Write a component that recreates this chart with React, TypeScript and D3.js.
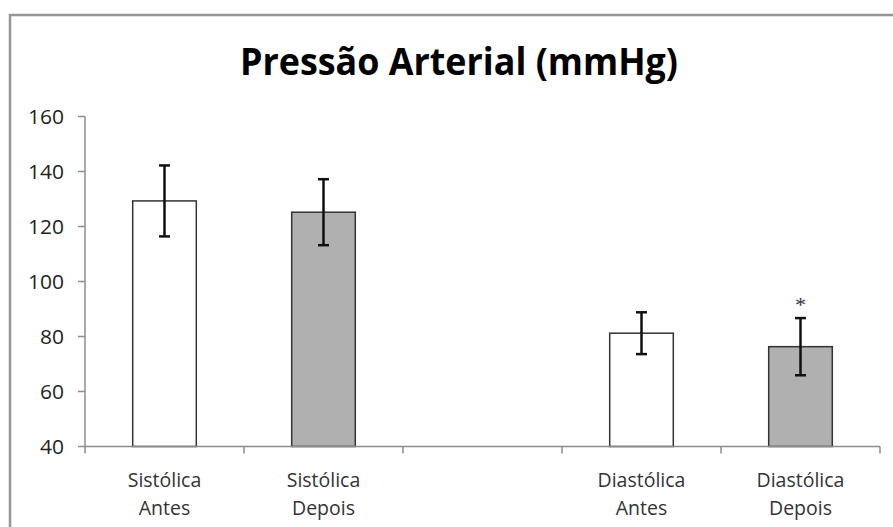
import React from 'react';
import * as d3 from 'd3';

// Dados
const slots = ['sa', 'sd', 'gap', 'da', 'dd'];
const barKeys = ['sa', 'sd', 'da', 'dd'];
const barLabels = [['Sistólica', 'Antes'], ['Sistólica', 'Depois'], ['Diastólica', 'Antes'], ['Diastólica', 'Depois']];
const means = [129.3, 125.2, 81.2, 76.3];
const errors = [12.9, 12.0, 7.6, 10.4];
const fills = ['#ffffff', '#b0b0b0', '#ffffff', '#b0b0b0'];
const significant = [false, false, false, true];
const yTicks = [40, 60, 80, 100, 120, 140, 160];

const W = 893;
const H = 527;
const FONT = "'Open Sans', sans-serif";

const App = () => {
  const x = d3.scaleBand<string>().domain(slots).range([85, 880]).paddingInner(0.6).paddingOuter(0.3);
  const y = d3.scaleLinear().domain([40, 160]).range([446.5, 116.5]);
  const step = x.step();
  const bw = x.bandwidth();
  const boundaries = d3.range(slots.length + 1).map(i => 85 + i * step);

  return (
    <div style={{ position: 'absolute', top: 0, left: 0 }}>
      <svg width={W} height={H} style={{ display: 'block', background: '#fff' }}>
        {/* moldura */}
        <path d={`M10,${H + 5} V15 H${W + 5}`} fill="none" stroke="#959595" strokeWidth={2.5} />

        <text x={459} y={75} textAnchor="middle" fontFamily={FONT} fontWeight="bold"
          fontSize={37} fill="#000" textLength={438} lengthAdjust="spacingAndGlyphs">
          Pressão Arterial (mmHg)
        </text>

        {/* eixo Y */}
        <line x1={85} x2={85} y1={y(160)} y2={y(40)} stroke="#8c8c8c" strokeWidth={1.5} />
        {yTicks.map(t => (
          <g key={t}>
            <line x1={78} x2={85} y1={y(t)} y2={y(t)} stroke="#8c8c8c" strokeWidth={1.5} />
            <text x={64} y={y(t) + 7} textAnchor="end" fontFamily={FONT} fontSize={20} fill="#222"
              textLength={t >= 100 ? 36 : 24} lengthAdjust="spacingAndGlyphs">
              {t}
            </text>
          </g>
        ))}

        {/* barras */}
        {barKeys.map((k, i) => {
          const x0 = x(k) as number;
          const cx = x0 + bw / 2;
          return (
            <g key={k}>
              <rect x={x0} y={y(means[i])} width={bw} height={y(40) - y(means[i])}
                fill={fills[i]} stroke="#333" strokeWidth={1.5} />
              <line x1={cx} x2={cx} y1={y(means[i] + errors[i])} y2={y(means[i] - errors[i])} stroke="#111" strokeWidth={2.5} />
              <line x1={cx - 5.5} x2={cx + 5.5} y1={y(means[i] + errors[i])} y2={y(means[i] + errors[i])} stroke="#111" strokeWidth={2.5} />
              <line x1={cx - 5.5} x2={cx + 5.5} y1={y(means[i] - errors[i])} y2={y(means[i] - errors[i])} stroke="#111" strokeWidth={2.5} />
              {significant[i] && (
                <text x={cx} y={y(means[i] + errors[i]) - 6} textAnchor="middle" fontFamily="'Liberation Serif', serif"
                  fontSize={22} fill="#333">*</text>
              )}
              <text x={cx} y={487} textAnchor="middle" fontFamily={FONT} fontSize={19.5} fill="#333">
                {barLabels[i][0]}
              </text>
              <text x={cx} y={515} textAnchor="middle" fontFamily={FONT} fontSize={19.5} fill="#333">
                {barLabels[i][1]}
              </text>
            </g>
          );
        })}

        {/* eixo X */}
        <line x1={85} x2={880} y1={y(40)} y2={y(40)} stroke="#8c8c8c" strokeWidth={1.5} />
        {boundaries.map((b, i) => (
          <line key={i} x1={b} x2={b} y1={y(40)} y2={y(40) + 7} stroke="#8c8c8c" strokeWidth={1.5} />
        ))}
      </svg>
    </div>
  );
};

export default App;
